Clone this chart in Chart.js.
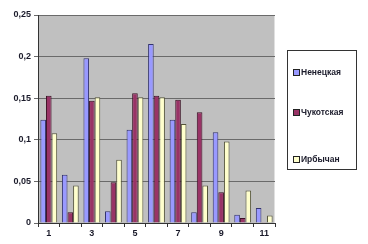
<!DOCTYPE html>
<html><head><meta charset="utf-8">
<script src="https://cdn.jsdelivr.net/npm/chart.js"></script>
<style>
html,body{margin:0;padding:0;background:#fff;}
#wrap{position:relative;width:368px;height:244px;}
#legend{position:absolute;left:287px;top:50px;width:70px;height:120px;border:1px solid #333;box-sizing:border-box;font:bold 8.5px "Liberation Sans",Arial,sans-serif;color:#1a1a2a;}
#legend div{position:absolute;left:5px;white-space:nowrap;}
#legend span{display:inline-block;width:5px;height:5px;border:1px solid #222;margin-right:1px;vertical-align:-1px;}
</style></head>
<body><div id="wrap"><canvas id="c" width="368" height="244"></canvas><div id="legend"></div></div>
<script>
const categories = ['1','2','3','4','5','6','7','8','9','10','11'];
const nenets = [0.124,0.058,0.198,0.014,0.112,0.215,0.124,0.013,0.109,0.010,0.018];
const chukot = [0.153,0.013,0.147,0.049,0.156,0.153,0.148,0.133,0.037,0.006,0.001];
const irbych = [0.108,0.045,0.151,0.076,0.151,0.151,0.119,0.045,0.098,0.039,0.009];
const seriesNames = ['Ненецкая','Чукотская','Ирбычан'];
const colors = ['#9999ff','#993366','#ffffcc'];
const borders = ['#33336e','#3a1024','#55553a'];

const bgPlugin = {
  id:'bg',
  beforeDraw(chart){
    const a = chart.chartArea, ctx = chart.ctx;
    ctx.save();
    ctx.fillStyle = '#c0c0c0';
    ctx.fillRect(a.left, a.top, a.right-a.left, a.bottom-a.top);
    ctx.strokeStyle = '#e0e0e0';
    ctx.lineWidth = 1;
    ctx.beginPath();
    ctx.moveTo(a.left, a.top+0.5); ctx.lineTo(a.right, a.top+0.5);
    ctx.moveTo(a.right-0.5, a.top); ctx.lineTo(a.right-0.5, a.bottom);
    ctx.stroke();
    ctx.restore();
  }
};

const tickFont = {family:'"Liberation Sans", Arial', size:9, weight:'bold'};
const data = [nenets, chukot, irbych];
new Chart(document.getElementById('c'), {
  type:'bar',
  data:{
    labels:categories,
    datasets: data.map((d,i)=>({label:seriesNames[i], data:d, backgroundColor:colors[i], borderColor:borders[i], borderWidth:1, barPercentage:1.0, categoryPercentage:0.78}))
  },
  options:{
    responsive:false, animation:false,
    layout:{padding:{top:15,right:93,left:0,bottom:0}},
    plugins:{legend:{display:false}, tooltip:{enabled:false}},
    scales:{
      x:{
        grid:{drawOnChartArea:false, color:'#333', tickLength:4, offset:true},
        border:{color:'#333'},
        ticks:{autoSkip:false, maxRotation:0, padding:1, color:'#1a1a2a', font:tickFont,
          callback:function(v,i){ return i%2===0 ? categories[i] : ''; }},
        afterFit(s){ s.height = 21; }
      },
      y:{
        min:0, max:0.25,
        grid:{color:'#6a6a6a', tickLength:4},
        border:{color:'#333'},
        ticks:{stepSize:0.05, padding:3, color:'#1a1a2a', font:tickFont,
          callback:function(v){ const r=Math.round(v*100)/100; return String(r).replace('.',','); }},
        afterFit(s){ s.width = 38; }
      }
    }
  },
  plugins:[bgPlugin]
});

const lg = document.getElementById('legend');
const tops = [16,56,103];
seriesNames.forEach((n,i)=>{
  const d = document.createElement('div');
  d.style.top = tops[i]+'px';
  d.innerHTML = '<span style="background:'+colors[i]+'"></span>'+n;
  lg.appendChild(d);
});
</script></body></html>
